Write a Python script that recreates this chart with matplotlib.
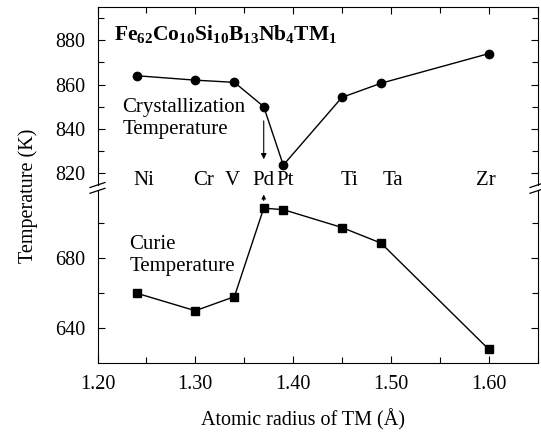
import numpy as np
import matplotlib
matplotlib.use("Agg")
import matplotlib.pyplot as plt
from matplotlib.ticker import MultipleLocator, FormatStrFormatter
from matplotlib.lines import Line2D

# data
radius = [1.24, 1.30, 1.34, 1.37, 1.39, 1.45, 1.49, 1.60]
elements = ['Ni', 'Cr', 'V', 'Pd', 'Pt', 'Ti', 'Ta', 'Zr']
label_x = [1.247, 1.308, 1.338, 1.370, 1.392, 1.458, 1.502, 1.597]
t_cryst = [864, 862, 861, 850, 823.5, 854.2, 860.6, 874]
t_curie = [660, 650, 658, 708.4, 707.6, 697.4, 688.5, 628.1]

plt.rcParams['font.family'] = ['Liberation Serif', 'DejaVu Serif']
plt.rcParams['mathtext.fontset'] = 'custom'
plt.rcParams['mathtext.rm'] = 'Liberation Serif'
plt.rcParams['mathtext.bf'] = 'Liberation Serif:bold'

W, H = 541, 434
fig = plt.figure(figsize=(W / 100, H / 100), dpi=100)

def px_box(x0, y0, x1, y1):
    return [x0 / W, 1 - y1 / H, (x1 - x0) / W, (y1 - y0) / H]

ax1 = fig.add_axes(px_box(97.5, 7.3, 537.5, 185))
ax2 = fig.add_axes(px_box(97.5, 191, 537.5, 362.5))

ax1.plot(radius, t_cryst, '-o', color='k', lw=1.0, ms=6)
ax2.plot(radius, t_curie, '-s', color='k', lw=1.0, ms=5.5)

ax1.set_ylim(814.5, 895)
ax2.set_ylim(620.5, 718.2)
for ax in (ax1, ax2):
    ax.set_xlim(1.20, 1.65)
    ax.xaxis.set_major_locator(MultipleLocator(0.1))
    ax.xaxis.set_minor_locator(MultipleLocator(0.05))
    ax.tick_params(which='both', direction='in', top=True, right=True,
                   labelsize=14.5, width=0.8)
    ax.tick_params(which='major', length=5)
    ax.tick_params(which='minor', length=4)
    for s in ax.spines.values():
        s.set_linewidth(0.8)

ax1.yaxis.set_major_locator(MultipleLocator(20))
ax1.yaxis.set_minor_locator(MultipleLocator(10))
ax2.yaxis.set_major_locator(MultipleLocator(40))
ax2.yaxis.set_minor_locator(MultipleLocator(20))
ax2.xaxis.set_major_formatter(FormatStrFormatter('%.2f'))

ax1.spines['bottom'].set_visible(False)
ax1.tick_params(which='both', bottom=False, labelbottom=False)
ax2.spines['top'].set_visible(False)
ax2.tick_params(which='both', top=False)
ax1.tick_params(axis='y', pad=9)
ax2.tick_params(axis='y', pad=9)
ax2.tick_params(axis='x', pad=9)

for x, name in zip(label_x, elements):
    ax1.text(x, 816.5, name, ha='center', va='center', fontsize=15, clip_on=False)

ax1.text(1.217, 880, r'$\mathbf{Fe_{62}Co_{10}Si_{10}B_{13}Nb_{4}TM_{1}}$',
         fontsize=15.5, ha='left', va='baseline')
ax1.text(1.2255, 844.6, 'Crystallization\nTemperature', fontsize=15,
         ha='left', va='center', linespacing=1.2)
ax2.text(1.2324, 681.3, 'Curie\nTemperature', fontsize=15,
         ha='left', va='center', linespacing=1.2)

ax1.annotate('', xy=(1.37, 824.9), xytext=(1.37, 844.8),
             arrowprops=dict(arrowstyle='-|>', color='k', lw=0.8, mutation_scale=8))
ax2.annotate('', xy=(1.37, 717.8), xytext=(1.37, 711.2),
             arrowprops=dict(arrowstyle='-|>', color='k', lw=0.8, mutation_scale=6),
             annotation_clip=False)

# axis break marks
for xc in (97.5, 537.5):
    for yc in (185, 190.8):
        x0, x1 = xc - 7.5, xc + 7.5
        y0, y1 = yc + 2.5, yc - 2.5
        fig.add_artist(Line2D([x0 / W, x1 / W], [1 - y0 / H, 1 - y1 / H],
                              color='k', lw=0.9))

fig.text(28 / W, 1 - 196 / H, 'Temperature (K)', rotation=90,
         ha='center', va='center', fontsize=14.5)
fig.text(303 / W, 1 - 420 / H, 'Atomic radius of TM (Å)',
         ha='center', va='center', fontsize=14.5)

fig.savefig('out.png', dpi=100)
